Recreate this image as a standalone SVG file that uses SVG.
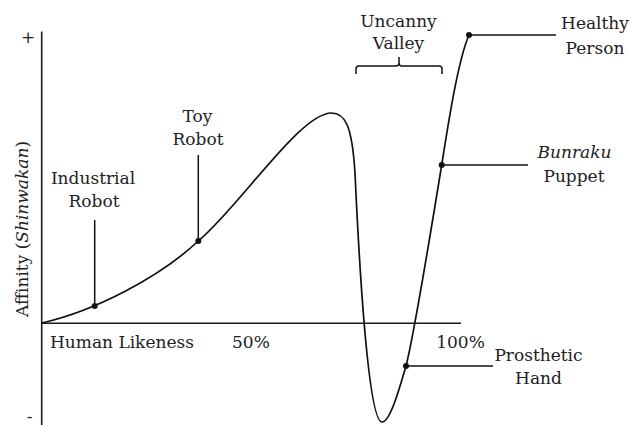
<svg xmlns="http://www.w3.org/2000/svg" width="630" height="425" viewBox="0 0 630 425">
<style>
text{font-family:"DejaVu Serif","Liberation Serif",serif;font-size:17px;fill:#222;}
.m{text-anchor:middle;}
.ax{stroke:#1a1a1a;stroke-width:1.6;fill:none;}
.cv{stroke:#111;stroke-width:1.7;fill:none;}
.ln{stroke:#111;stroke-width:1.5;fill:none;}
.dot{fill:#111;}
</style>
<rect width="630" height="425" fill="#fff"/>
<g id="axes">
<path class="ax" d="M41.7,31.5 V425 M41.7,323.3 H461"/>
<text x="28" y="42.5" class="m">+</text>
<text x="29.7" y="422" class="m">-</text>
<text transform="translate(27.5,229) rotate(-90)" class="m">Affinity (<tspan font-style="italic">Shinwakan</tspan>)</text>
<text x="50" y="348">Human Likeness</text>
<text x="232" y="348">50%</text>
<text x="460.5" y="348" class="m">100%</text>
</g>
<g id="curve">
<path class="cv" d="M41.7,323 C95,311 160,277 198.3,241 C240,206 300,113 331.5,113 C345,113 352,125 355,173 C359,260 368,422 382,422 C390,422 399,390 406,366 C414,335 436,200 441.7,165 C448,125 458,60 469,35"/>
</g>
<g id="connectors">
<path class="ln" d="M94.7,220 V306"/>
<path class="ln" d="M198.3,155 V241"/>
<path class="ln" d="M469,35 H556"/>
<path class="ln" d="M441.7,165 H528"/>
<path class="ln" d="M406,366 H493"/>
</g>
<g id="industrial-robot">
<circle class="dot" cx="94.7" cy="306" r="3"/>
<text x="93" y="184" class="m">Industrial</text>
<text x="94" y="207" class="m">Robot</text>
</g>
<g id="toy-robot">
<circle class="dot" cx="198.3" cy="241" r="3"/>
<text x="197.5" y="122" class="m">Toy</text>
<text x="198" y="145" class="m">Robot</text>
</g>
<g id="uncanny-valley">
<path class="ln" d="M356,74 V69 Q356,66 359,66 H396 Q399,66 399,63 V57 M399,63 Q399,66 402,66 H439 Q442,66 442,69 V74"/>
<text x="398.5" y="27" class="m">Uncanny</text>
<text x="398.5" y="49" class="m">Valley</text>
</g>
<g id="healthy-person">
<circle class="dot" cx="469" cy="35" r="3"/>
<text x="595" y="29" class="m">Healthy</text>
<text x="595" y="54" class="m">Person</text>
</g>
<g id="bunraku-puppet">
<circle class="dot" cx="441.7" cy="165" r="3"/>
<text x="574.5" y="158" class="m" font-style="italic">Bunraku</text>
<text x="574" y="182" class="m">Puppet</text>
</g>
<g id="prosthetic-hand">
<circle class="dot" cx="406" cy="366" r="3"/>
<text x="538.5" y="361" class="m">Prosthetic</text>
<text x="538.5" y="384" class="m">Hand</text>
</g>
</svg>
